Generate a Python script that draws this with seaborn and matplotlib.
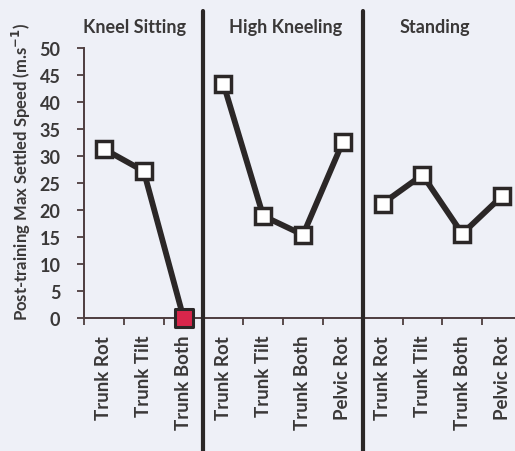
import matplotlib
matplotlib.use("Agg")
import matplotlib.pyplot as plt
import matplotlib.transforms as mtransforms
import seaborn as sns
import pandas as pd

# Post-training max settled speed by posture and movement
groups = ["Kneel Sitting", "High Kneeling", "Standing"]
kneel_sitting_moves = ["Trunk Rot", "Trunk Tilt", "Trunk Both"]
high_kneeling_moves = ["Trunk Rot", "Trunk Tilt", "Trunk Both", "Pelvic Rot"]
standing_moves = ["Trunk Rot", "Trunk Tilt", "Trunk Both", "Pelvic Rot"]
kneel_sitting_speed = [31.3, 27.2, 0.0]
high_kneeling_speed = [43.4, 18.9, 15.4, 32.6]
standing_speed = [21.2, 26.5, 15.6, 22.6]
y_ticks = [0, 5, 10, 15, 20, 25, 30, 35, 40, 45, 50]

rows = []
pos = 0
for g, moves, vals in zip(groups,
                          [kneel_sitting_moves, high_kneeling_moves, standing_moves],
                          [kneel_sitting_speed, high_kneeling_speed, standing_speed]):
    for m, v in zip(moves, vals):
        rows.append({"pos": pos, "group": g, "movement": m, "speed": v})
        pos += 1
df = pd.DataFrame(rows)

bg = "#eef0f7"
ink = "#2b2727"
axis_col = "#4d3d3f"
text_col = "#3a3838"

sns.set_theme(style="white")
plt.rcParams["font.family"] = ["Lato", "DejaVu Sans"]
plt.rcParams["font.weight"] = "bold"

fig = plt.figure(figsize=(5.15, 4.52), dpi=100, facecolor=bg)
ax = fig.add_axes([84 / 515, (452 - 319) / 452, 438 / 515, 270 / 452])
ax.set_facecolor(bg)

sns.lineplot(data=df, x="pos", y="speed", hue="group",
             palette={g: ink for g in groups}, legend=False, ax=ax,
             marker="s", markersize=12, markerfacecolor="white",
             markeredgecolor=ink, markeredgewidth=2.5, linewidth=4.2,
             sort=False, zorder=3)

# zero-speed result highlighted in red
zero = df[df["speed"] == 0]
sns.scatterplot(data=zero, x="pos", y="speed", marker="s", s=160,
                color="#d8264b", edgecolor=ink, linewidth=2.2, ax=ax,
                zorder=5, clip_on=False)

n = len(df)
ax.set_xlim(-0.5, n - 0.5)
ax.set_ylim(0, 50)
ax.set_yticks(y_ticks)
ax.set_xticks(df["pos"])
ax.set_xticklabels(df["movement"], rotation=90)
ax.set_xticks([i - 0.5 for i in range(n + 1)], minor=True)
ax.set_xlabel("")
ax.set_ylabel("")

for s in ["top", "right"]:
    ax.spines[s].set_visible(False)
for s in ["left", "bottom"]:
    ax.spines[s].set_color(axis_col)
    ax.spines[s].set_linewidth(1.4)

ax.tick_params(axis="y", direction="out", length=5, width=1.3, color=axis_col,
               labelsize=13, labelcolor=text_col, pad=12, left=True)
ax.tick_params(axis="x", which="major", length=0, labelsize=13.5,
               labelcolor=text_col, pad=12)
ax.tick_params(axis="x", which="minor", direction="out", length=5, width=1.3,
               color=axis_col, bottom=True)
for lbl in ax.get_xticklabels() + ax.get_yticklabels():
    lbl.set_fontweight("bold")

# posture separators running the full height of the figure
blend = mtransforms.blended_transform_factory(ax.transData, fig.transFigure)
start = 0
for moves in [kneel_sitting_moves, high_kneeling_moves]:
    start += len(moves)
    ax.plot([start - 0.5, start - 0.5], [0, 1 - 12 / 452], transform=blend,
            color=ink, linewidth=3.0, clip_on=False, zorder=6)

# posture titles
title_x = [0.78, 4.55, 8.3]
for g, tx in zip(groups, title_x):
    ax.text(tx, 1 - 28 / 452, g, transform=blend, ha="center", va="center",
            fontsize=13, fontweight="bold", color=text_col)

fig.text(21 / 515, 1 - 172 / 452, "Post-training Max Settled Speed (m.s$^{\\mathbf{-1}}$)",
         rotation=90, ha="center", va="center", fontsize=12,
         fontweight="bold", color=text_col)

fig.savefig("out.png", dpi=100, facecolor=bg)
